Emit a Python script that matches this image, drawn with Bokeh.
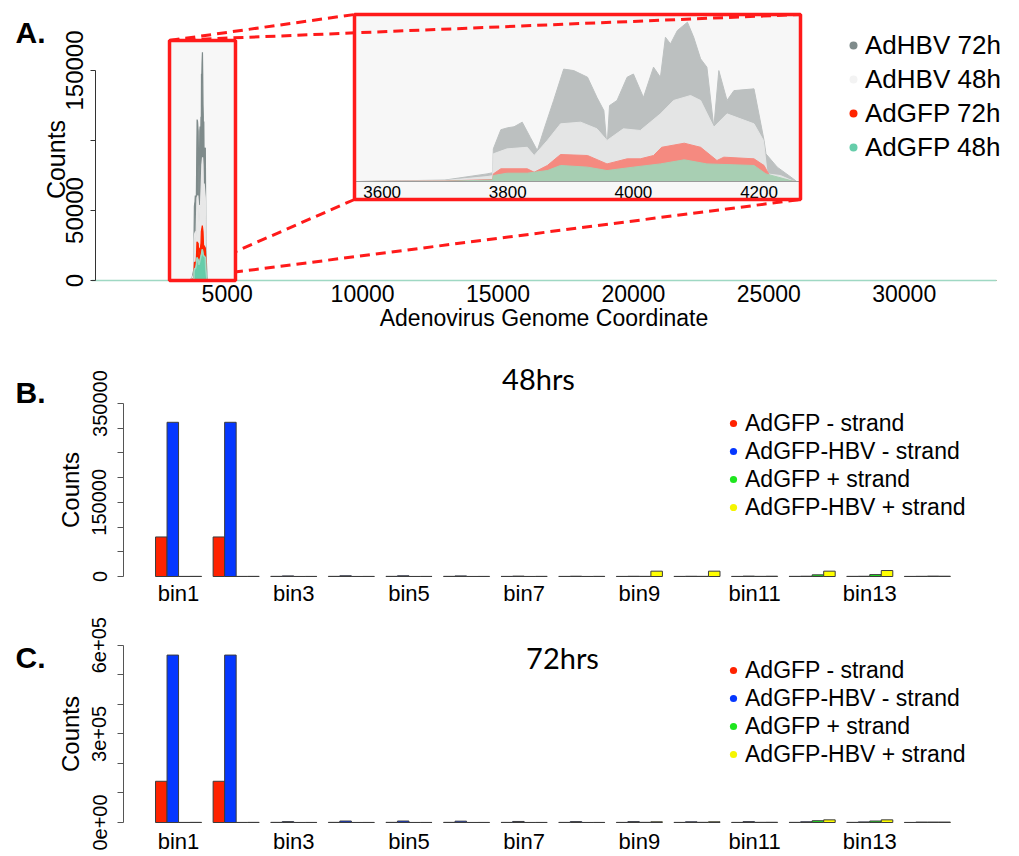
from bokeh.plotting import figure
from bokeh.models import Range1d, FixedTicker, Legend, LegendItem, Label
from bokeh.layouts import column
from bokeh.embed import file_html
from bokeh.resources import INLINE
from bokeh.core.properties import value

FONT = "Liberation Sans"
TITLE_FONT = "Lato"

# ---------------- Panel A data (coverage along the adenovirus genome) ----------------
A_series = ["AdHBV 72h", "AdHBV 48h", "AdGFP 72h", "AdGFP 48h"]

hbv72_pos = [0, 3560, 3700, 3767, 3776, 3777, 3789, 3800, 3810, 3823, 3836, 3847, 3857, 3873, 3889,
             3905, 3927, 3942, 3953, 3958, 3962, 3974, 3990, 4000, 4016, 4032, 4043, 4051, 4059, 4070,
             4086, 4096, 4107, 4117, 4128, 4136, 4149, 4160, 4192, 4208, 4211, 4229, 4251, 4260, 33400]
hbv72_cnt = [0, 0, 1500, 7800, 9000, 33400, 53000, 55000, 56000, 60700, 45000, 31700, 52000, 82900, 115000,
             113500, 106700, 86000, 72600, 35000, 77700, 83000, 106700, 110000, 86000, 117000, 106700, 147600, 140800, 154500,
             163000, 147600, 125500, 117000, 55600, 113500, 83000, 93000, 94800, 42000, 28300, 14700, 4400, 0, 0]

hbv48_pos = [0, 3560, 3700, 3767, 3776, 3777, 3799, 3831, 3842, 3863, 3884, 3916, 3942, 3958, 3984,
             4011, 4043, 4064, 4091, 4107, 4128, 4149, 4192, 4207, 4213, 4234, 4256, 33400]
hbv48_cnt = [0, 0, 1000, 5000, 6000, 28300, 33400, 35000, 26600, 42000, 59000, 60700, 53900, 42000, 53900,
             52200, 69200, 82900, 88000, 82900, 55600, 69200, 59000, 42000, 7800, 6100, 0, 0]

gfp72_pos = [0, 3560, 3700, 3776, 3777, 3789, 3831, 3842, 3863, 3884, 3927, 3958, 3990, 4011, 4032,
             4045, 4081, 4107, 4133, 4144, 4192, 4208, 4218, 4256, 33400]
gfp72_cnt = [0, 0, 500, 2000, 7800, 13000, 13000, 9500, 16400, 27600, 26600, 18000, 23200, 23200, 26600,
             35000, 39200, 35000, 21500, 24900, 23200, 16400, 4400, 0, 0]

gfp48_pos = [0, 3560, 3700, 3776, 3777, 3799, 3831, 3863, 3884, 3927, 3958, 4000, 4043, 4081, 4117,
             4192, 4211, 4256, 33400]
gfp48_cnt = [0, 0, 300, 1500, 6100, 8500, 8500, 11200, 16400, 14700, 11200, 14700, 18000, 22200, 18000,
             16400, 7800, 0, 0]

genome_extent = (0, 33400)
A_xticks = [5000, 10000, 15000, 20000, 25000, 30000]
A_yticks = [0, 50000, 100000, 150000]
A_ylabels = ["0", "50000", "", "150000"]
inset_ticks = [3600, 3800, 4000, 4200]
inset_window = (3556, 4266)
zoom_window = (2870, 5306)

# ---------------- Panels B / C data (strand counts per bin) ----------------
bins = ["bin1", "bin2", "bin3", "bin4", "bin5", "bin6", "bin7",
        "bin8", "bin9", "bin10", "bin11", "bin12", "bin13", "bin14"]
strands = ["AdGFP - strand", "AdGFP-HBV - strand", "AdGFP + strand", "AdGFP-HBV + strand"]

gfp_minus_48 = [80000, 80000, 300, 300, 300, 300, 200, 200, 200, 200, 200, 300, 300, 200]
hbv_minus_48 = [312000, 312000, 1200, 1500, 1500, 1200, 800, 600, 500, 500, 800, 600, 500, 400]
gfp_plus_48 = [200, 200, 100, 100, 100, 100, 100, 100, 300, 300, 300, 3400, 3800, 800]
hbv_plus_48 = [300, 300, 200, 200, 200, 200, 300, 300, 10800, 10800, 600, 10800, 12100, 600]

gfp_minus_72 = [139500, 139500, 500, 500, 500, 500, 400, 400, 400, 400, 400, 500, 500, 300]
hbv_minus_72 = [566600, 566600, 3000, 5000, 5000, 4500, 3500, 3000, 3000, 2500, 3000, 2500, 2000, 1500]
gfp_plus_72 = [300, 300, 200, 200, 200, 200, 200, 200, 600, 600, 600, 6000, 5000, 1500]
hbv_plus_72 = [500, 500, 300, 300, 300, 300, 300, 300, 2500, 2500, 800, 9000, 9000, 1500]

B_yticks = [0, 50000, 100000, 150000, 200000, 250000, 300000, 350000]
B_ylabels = ["0", "", "", "150000", "", "", "", "350000"]
C_yticks = [0, 100000, 200000, 300000, 400000, 500000, 600000]
C_ylabels = ["0e+00", "", "", "3e+05", "", "", "6e+05"]

# ---------------- styles ----------------
A_main_colors = ["#7f8b8b", "#e8e8e8", "#ff2400", "#66cdaa"]
A_inset_colors = ["#bcc0c0", "#e4e5e5", "#f58a80", "#a8cfb3"]
A_legend_colors = ["#7f8b8b", "#f3f3f3", "#ff2400", "#66cdaa"]
bar_colors = ["#ff2200", "#0537ff", "#1ee61e", "#ffff00"]
legend_dot_colors = ["#ff2200", "#0537ff", "#1ee61e", "#f5f500"]
RED = "#ff1a1a"
W = 1019
NAN = float("nan")


def new_fig(height, xr, yr):
    p = figure(width=W, height=height, x_range=xr, y_range=yr, output_backend="svg",
               toolbar_location=None, min_border_left=0, min_border_right=0,
               min_border_top=0, min_border_bottom=0)
    p.outline_line_color = None
    p.xgrid.visible = False
    p.ygrid.visible = False
    p.background_fill_color = "white"
    p.border_fill_color = "white"
    return p


def style_axis(a, label_size, standoff):
    a.minor_tick_line_color = None
    a.major_label_text_font = FONT
    a.major_label_text_font_size = label_size
    a.major_label_text_color = "black"
    a.major_label_standoff = standoff
    a.axis_label_text_font = FONT
    a.axis_label_text_font_style = "normal"
    a.axis_label_text_color = "black"


# ================= Panel A =================
A_H = 338
A_X0PX, A_PXPERBP = 91.3, 135.4 / 5000      # page px of coordinate 0, px per bp
A_Y0PX, A_PXPERCNT = 280, 210 / 150000
A_AXIS_PX = 95


def ax(px):
    return (px - A_X0PX) / A_PXPERBP


def ay(py):
    return (A_Y0PX - py) / A_PXPERCNT


IN_L, IN_R, IN_T, IN_B = 354, 800, 14, 199
IN_PXPERBP = (IN_R - IN_L) / (inset_window[1] - inset_window[0])
IN_Y0PX, IN_PXPERCNT = 181, (181 - 21.7) / 163000


def ix(px):
    return inset_window[0] + (px - IN_L) / IN_PXPERBP


def iy(py):
    return (IN_Y0PX - py) / IN_PXPERCNT


pA = new_fig(A_H, Range1d(ax(0), ax(W)), Range1d(ay(A_H), ay(0)))
pA.extra_x_ranges = {"inset": Range1d(ix(0), ix(W))}
pA.extra_y_ranges = {"inset": Range1d(iy(A_H), iy(0))}

# inset background
pA.quad(left=[ix(IN_L)], right=[ix(IN_R)], top=[iy(IN_T)], bottom=[iy(IN_B)],
        x_range_name="inset", y_range_name="inset", fill_color="#f7f7f7", line_color=None)

# dashed connector lines (zoom box corners -> inset corners)
SB_L, SB_T, SB_B = 169, 40, 280
pA.segment(x0=[ax(SB_L)] * 4, y0=[ay(SB_T), ay(SB_T), ay(SB_B), ay(SB_B)],
           x1=[ax(IN_L), ax(IN_R), ax(IN_L), ax(IN_R)], y1=[ay(IN_T), ay(IN_T), ay(IN_B), ay(IN_B)],
           line_color=RED, line_width=3, line_dash="10 6")

# zoom box fill
pA.quad(left=[zoom_window[0]], right=[zoom_window[1]], top=[ay(SB_T)], bottom=[0],
        fill_color="#f7f7f7", line_color=None)

A_data = [(hbv72_pos, hbv72_cnt), (hbv48_pos, hbv48_cnt), (gfp72_pos, gfp72_cnt), (gfp48_pos, gfp48_cnt)]
for (pos, cnt), col in zip(A_data, A_main_colors):
    pA.varea(x=pos, y1=[0] * len(pos), y2=cnt, fill_color=col)
    pA.line(x=pos, y=cnt, line_color=col, line_width=1.2)
pA.line(x=gfp48_pos, y=gfp48_cnt, line_color="#9fd8c3", line_width=1.5)

# zoom box outline
pA.quad(left=[zoom_window[0]], right=[zoom_window[1]], top=[ay(SB_T)], bottom=[0],
        fill_color=None, line_color=RED, line_width=3.5)

# inset data
for (pos, cnt), col in zip(A_data, A_inset_colors):
    sel = [(x, y) for x, y in zip(pos, cnt) if inset_window[0] <= x <= inset_window[1]]
    xs = [s[0] for s in sel]
    ys = [s[1] for s in sel]
    pA.varea(x=xs, y1=[0] * len(xs), y2=ys, fill_color=col,
             x_range_name="inset", y_range_name="inset")
    pA.line(x=xs, y=ys, line_color=col, line_width=1,
            x_range_name="inset", y_range_name="inset")
pA.line(x=list(inset_window), y=[0, 0], line_color="#9a9a9a", line_width=1,
        x_range_name="inset", y_range_name="inset")
pA.text(x=inset_ticks, y=[0] * len(inset_ticks), text=[str(t) for t in inset_ticks],
        x_range_name="inset", y_range_name="inset", text_font=value(FONT),
        text_font_size="17px", text_align="center", text_baseline="middle", y_offset=10,
        text_color="black")
pA.quad(left=[ix(IN_L)], right=[ix(IN_R)], top=[iy(IN_T)], bottom=[iy(IN_B)],
        x_range_name="inset", y_range_name="inset", fill_color=None,
        line_color=RED, line_width=3.5)

# axes A (drawn at fixed locations inside the frame)
xa = pA.xaxis[0]
xa.fixed_location = 0
xa.bounds = genome_extent
xa.ticker = FixedTicker(ticks=A_xticks)
xa.major_label_overrides = {t: str(t) for t in A_xticks}
xa.axis_line_color = None
xa.major_tick_line_color = None
xa.major_tick_out = 0
xa.major_tick_in = 0
style_axis(xa, "23px", 4)
xa.axis_label = "Adenovirus Genome Coordinate"
xa.axis_label_text_font_size = "23px"
xa.axis_label_standoff = 0

ya = pA.yaxis[0]
ya.fixed_location = ax(A_AXIS_PX)
ya.ticker = FixedTicker(ticks=A_yticks)
ya.major_label_overrides = {t: l for t, l in zip(A_yticks, A_ylabels)}
# axis extent spans the plot region (so "Counts" is centred like R's);
# the visible axis line only runs over the tick range
ya.bounds = (0, ay(38))
ya.axis_line_color = None
ya.major_tick_line_color = "#333333"
ya.major_tick_out = 5
ya.major_tick_in = 0
ya.major_label_orientation = "vertical"
style_axis(ya, "24px", 8)
ya.axis_label = "Counts"
ya.axis_label_text_font_size = "25px"
ya.axis_label_standoff = -7
pA.segment(x0=[ax(A_AXIS_PX)], y0=[A_yticks[0]], x1=[ax(A_AXIS_PX)], y1=[A_yticks[-1]],
           line_color="#333333", line_width=1)

# legend A
A_items = []
for name, col in zip(A_series, A_legend_colors):
    r = pA.scatter(x=[NAN], y=[NAN], size=8, fill_color=col, line_color=None)
    A_items.append(LegendItem(label=name, renderers=[r]))
legA = Legend(items=A_items, location=(843, A_H - 164), orientation="vertical",
              glyph_width=20, glyph_height=34, label_height=34, spacing=0, padding=0, margin=0,
              label_standoff=2, border_line_color=None, background_fill_alpha=0,
              label_text_font=FONT, label_text_font_size="26px", label_text_color="black")
pA.add_layout(legA)
pA.add_layout(Label(x=ax(15), y=ay(32), text="A.", text_font=FONT, text_font_style="bold",
                    text_font_size="30px", text_baseline="alphabetic", text_color="black"))


# ================= Panels B / C =================
BAR_X0PX, BAR_PXPERU = 143.5, 11.52
AXIS_PX = 123


def make_bar_panel(top, height, zero_px, top_tick_px, yticks, ylabels, data,
                   title, title_cx, title_base, letter, letter_base, leg_bottom, xlab_standoff):
    pxper = (zero_px - top_tick_px) / yticks[-1]

    def bx(px):
        return (px - BAR_X0PX) / BAR_PXPERU

    def by(py):
        return (zero_px - py) / pxper

    p = new_fig(height, Range1d(bx(0), bx(W)), Range1d(by(top + height), by(top)))
    nser = len(data)
    group = nser + 1
    for j, (vals, col) in enumerate(zip(data, bar_colors)):
        xs = [i * group + j + 1.5 for i in range(len(bins))]
        p.vbar(x=xs, top=vals, bottom=0, width=1, fill_color=col, line_color="#3c3c3c", line_width=1)

    xa = p.xaxis[0]
    xa.fixed_location = 0
    centers = [i * group + 1 + nser / 2 for i in range(len(bins))]
    xa.ticker = FixedTicker(ticks=centers)
    xa.major_label_overrides = {c: (b if i % 2 == 0 else "") for i, (c, b) in enumerate(zip(centers, bins))}
    xa.axis_line_color = None
    xa.major_tick_line_color = None
    xa.major_tick_out = 0
    xa.major_tick_in = 0
    style_axis(xa, "22px", xlab_standoff)

    ya = p.yaxis[0]
    ya.fixed_location = bx(AXIS_PX)
    ya.ticker = FixedTicker(ticks=yticks)
    ya.major_label_overrides = {t: l for t, l in zip(yticks, ylabels)}
    ya.bounds = (yticks[0], yticks[-1])
    ya.axis_line_color = "#555555"
    ya.major_tick_line_color = "#555555"
    ya.major_tick_out = 6
    ya.major_tick_in = 0
    ya.major_label_orientation = "vertical"
    style_axis(ya, "20px", 11)
    ya.axis_label = "Counts"
    ya.axis_label_text_font_size = "24px"
    ya.axis_label_standoff = 6

    items = []
    for name, col in zip(strands, legend_dot_colors):
        r = p.scatter(x=[NAN], y=[NAN], size=7, fill_color=col, line_color=None)
        items.append(LegendItem(label=name, renderers=[r]))
    leg = Legend(items=items, location=(724, top + height - leg_bottom), orientation="vertical",
                 glyph_width=18, glyph_height=28, label_height=28, spacing=0, padding=0, margin=0,
                 label_standoff=3, border_line_color=None, background_fill_alpha=0,
                 label_text_font=FONT, label_text_font_size="23px", label_text_color="black")
    p.add_layout(leg)

    p.add_layout(Label(x=bx(title_cx), y=by(title_base), text=title, text_font=TITLE_FONT,
                       text_font_size="29px", text_align="center", text_baseline="alphabetic",
                       text_color="black"))
    p.add_layout(Label(x=bx(15), y=by(letter_base), text=letter, text_font=FONT,
                       text_font_style="bold", text_font_size="30px", text_baseline="alphabetic",
                       text_color="black"))
    return p


pB = make_bar_panel(338, 268, 576, 403, B_yticks, B_ylabels,
                    [gfp_minus_48, hbv_minus_48, gfp_plus_48, hbv_plus_48],
                    "48hrs", 538, 378, "B.", 392, 521, 4)
pC = make_bar_panel(606, 250, 822, 644.7, C_yticks, C_ylabels,
                    [gfp_minus_72, hbv_minus_72, gfp_plus_72, hbv_plus_72],
                    "72hrs", 562, 657, "C.", 657, 768, 6)

layout = column(pA, pB, pC, spacing=0)
open("out.html", "w").write(file_html(layout, INLINE))
